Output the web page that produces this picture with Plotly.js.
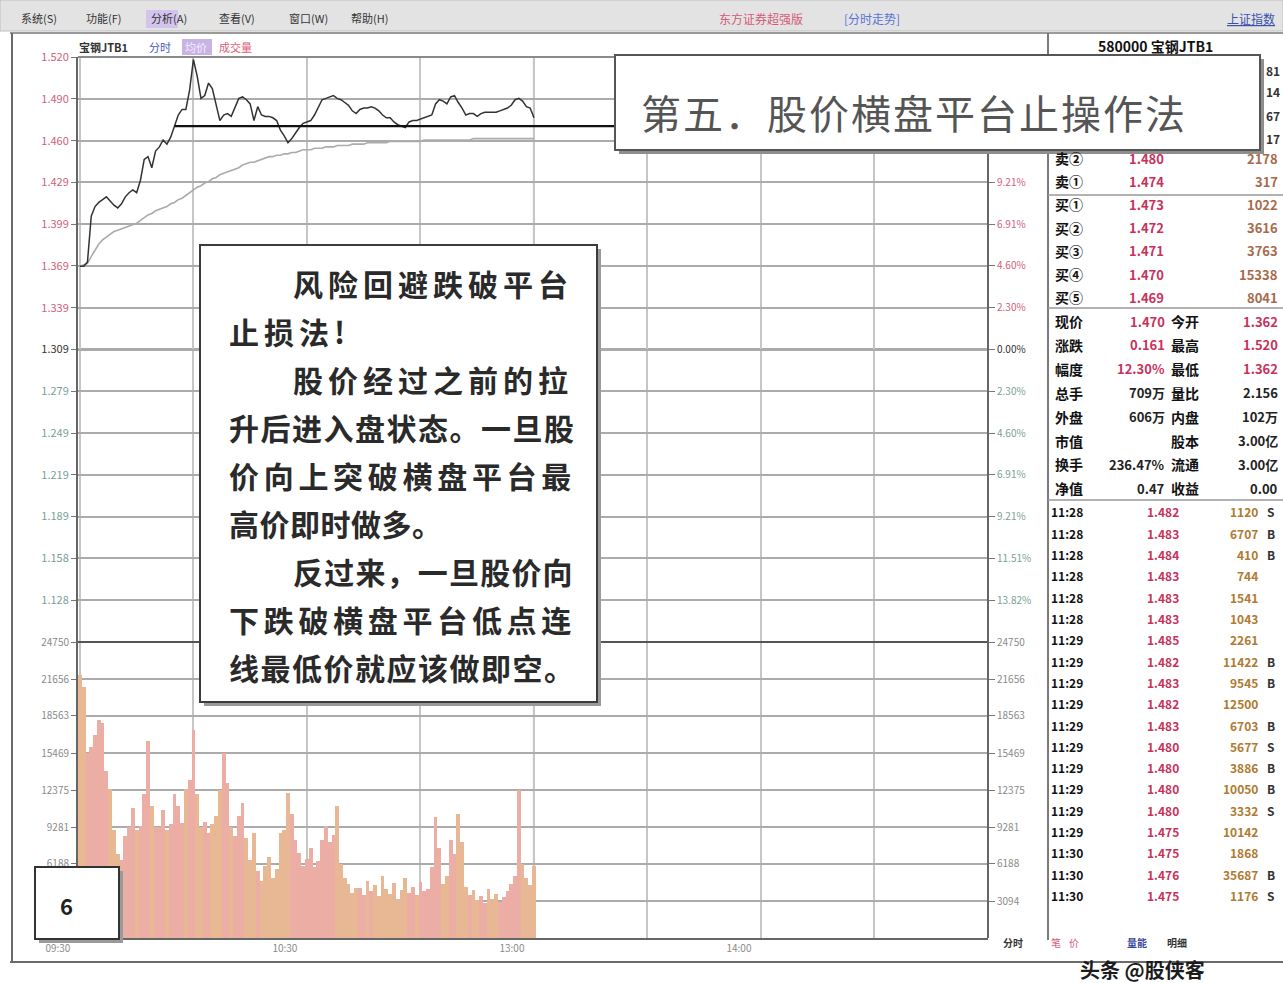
<!DOCTYPE html>
<html><head><meta charset="utf-8">
<script src="https://cdn.plot.ly/plotly-3.0.1.min.js"></script>
<style>html,body{margin:0;padding:0;background:#fff;}#chart{width:1283px;height:983px;}</style>
</head><body><div id="chart"></div>
<script>
// ---------- data ----------
const PRICE = [1.369,1.369,1.372,1.405,1.412,1.415,1.417,1.419,1.416,1.413,
 1.411,1.414,1.419,1.422,1.424,1.422,1.431,1.446,1.448,1.440,
 1.452,1.455,1.460,1.457,1.462,1.470,1.478,1.482,1.482,1.496,
 1.518,1.506,1.490,1.492,1.501,1.497,1.485,1.474,1.478,1.479,
 1.477,1.484,1.490,1.491,1.489,1.486,1.474,1.484,1.478,1.477,
 1.477,1.476,1.474,1.467,1.463,1.458,1.461,1.465,1.469,1.472,
 1.473,1.474,1.478,1.484,1.489,1.490,1.491,1.492,1.490,1.489,
 1.487,1.485,1.481,1.479,1.482,1.483,1.483,1.484,1.483,1.481,
 1.478,1.476,1.476,1.473,1.471,1.470,1.469,1.473,1.474,1.474,
 1.475,1.476,1.477,1.478,1.486,1.489,1.488,1.486,1.491,1.492,
 1.487,1.483,1.478,1.479,1.479,1.477,1.479,1.480,1.480,1.480,
 1.480,1.481,1.482,1.483,1.485,1.489,1.490,1.488,1.484,1.483,
 1.476];
const AVG = [1.369,1.370,1.371,1.376,1.381,1.385,1.388,1.390,1.392,1.394,
 1.395,1.396,1.397,1.398,1.399,1.400,1.402,1.404,1.406,1.407,
 1.409,1.410,1.411,1.412,1.414,1.415,1.417,1.418,1.420,1.422,
 1.424,1.426,1.427,1.429,1.430,1.432,1.433,1.435,1.436,1.437,
 1.438,1.439,1.440,1.442,1.443,1.444,1.444,1.445,1.446,1.447,
 1.448,1.448,1.449,1.449,1.450,1.450,1.451,1.451,1.452,1.453,
 1.453,1.453,1.454,1.454,1.454,1.455,1.455,1.455,1.456,1.456,
 1.456,1.456,1.457,1.457,1.457,1.457,1.458,1.458,1.458,1.458,
 1.458,1.458,1.459,1.459,1.459,1.459,1.459,1.459,1.459,1.459,
 1.459,1.460,1.460,1.460,1.460,1.460,1.460,1.460,1.460,1.460,
 1.460,1.460,1.460,1.460,1.461,1.461,1.461,1.461,1.461,1.461,
 1.461,1.461,1.461,1.461,1.461,1.461,1.461,1.461,1.461,1.461,
 1.461];
const VOLUME = [22000,21000,15500,16000,17000,18200,18000,14000,12500,9000,
 7000,6500,8500,9300,10900,9000,9400,12000,16500,11000,
 9300,9300,10700,9000,9500,12000,11000,9600,12500,13200,
 17400,12000,9300,9700,8800,9500,10200,12400,15500,13000,
 9300,8500,10200,11300,8400,6500,8800,5600,4800,6000,
 6800,5000,5800,8800,9000,12100,10400,8200,7100,6000,
 6600,7500,5900,6400,8200,9400,8000,8600,11000,6200,
 5000,4500,3800,4200,4200,3600,4800,3900,4400,3500,
 5200,4100,3700,4600,3300,4000,5000,3800,4300,3600,
 4700,3900,4100,5900,10100,7500,4500,5200,8200,7000,
 10400,8000,4300,3600,4000,3200,3500,2900,4100,3300,
 3700,3000,3400,3900,4500,5200,12400,6200,5000,4400,
 6000];
const PREV_CLOSE = 1.309;
const PLATFORM_LOW = 1.470;

const TIME_TICKS = [0,60,120,180];
const TIME_LABELS = ['09:30','10:30','13:00','14:00'];
const TIME_MINOR = [30,90,150,210];

const PRICE_TICKS = [1.5198,1.4896,1.4595,1.4294,1.3993,1.3692,1.3391,1.3090,1.2789,1.2488,1.2187,1.1886,1.1584,1.1283];
const PRICE_LABELS = ['1.520','1.490','1.460','1.429','1.399','1.369','1.339','1.309','1.279','1.249','1.219','1.189','1.158','1.128'];
// the three highest percentage labels lie under the title box in the reference
const PCT_LABELS = ['','','','9.21%','6.91%','4.60%','2.30%','0.00%','2.30%','4.60%','6.91%','9.21%','11.51%','13.82%'];
const VOL_TICKS = [3094,6188,9281,12375,15469,18563,21656,24750];
const VOL_LABELS = ['3094','6188','9281','12375','15469','18563','21656','24750'];
// on the left the lowest volume label is hidden by the "6" box in the reference
const VOL_LABELS_LEFT = ['','6188','9281','12375','15469','18563','21656','24750'];

const BOOK_LABELS = ['卖②','卖①','买①','买②','买③','买④','买⑤'];
const BOOK_PRICES = ['1.480','1.474','1.473','1.472','1.471','1.470','1.469'];
const BOOK_VOLS = ['2178','317','1022','3616','3763','15338','8041'];
const QUOTE_L1 = ['现价','涨跌','幅度','总手','外盘','市值','换手','净值'];
const QUOTE_V1 = ['1.470','0.161','12.30%','709万','606万','','236.47%','0.47'];
const QUOTE_L2 = ['今开','最高','最低','量比','内盘','股本','流通','收益'];
const QUOTE_V2 = ['1.362','1.520','1.362','2.156','102万','3.00亿','3.00亿','0.00'];
const TRADE_TIMES = ['11:28','11:28','11:28','11:28','11:28','11:28','11:29','11:29','11:29','11:29','11:29','11:29','11:29','11:29','11:29','11:29','11:30','11:30','11:30'];
const TRADE_PRICES = ['1.482','1.483','1.484','1.483','1.483','1.483','1.485','1.482','1.483','1.482','1.483','1.480','1.480','1.480','1.480','1.475','1.475','1.476','1.475'];
const TRADE_VOLS = ['1120','6707','410','744','1541','1043','2261','11422','9545','12500','6703','5677','3886','10050','3332','10142','1868','35687','1176'];
const TRADE_FLAGS = ['S','B','B','','','','','B','B','','B','S','B','B','S','','','B','S'];

const MENU = ['系统(S)','功能(F)','分析(A)','查看(V)','窗口(W)','帮助(H)'];
const TITLE_TEXT = '第五．股价横盘平台止操作法';
const NOTE_LINES = ['风险回避跌破平台','止损法!','股价经过之前的拉','升后进入盘状态。一旦股','价向上突破横盘平台最','高价即时做多。','反过来，一旦股价向','下跌破横盘平台低点连','线最低价就应该做即空。'];

// ---------- layout helpers ----------
const L=78,R=988,T=57,B=938;
const FONT='"Noto Sans CJK SC","Noto Sans",sans-serif';
const X=p=>(p-L)/(R-L);
const Y=p=>(B-p)/(B-T);
function txt(x,y,text,size,color,anchor,weight){
  return {xref:'paper',yref:'paper',x:X(x),y:Y(y),text:text,showarrow:false,
    xanchor:anchor||'left',yanchor:'middle',borderpad:0,
    font:{family:FONT,size:size,color:color,weight:weight||'normal'}};
}
function rect(x0,y0,x1,y1,fill,lc,lw){
  return {type:'rect',xref:'paper',yref:'paper',x0:X(x0),x1:X(x1),y0:Y(y0),y1:Y(y1),
    fillcolor:fill,line:{color:lc||'rgba(0,0,0,0)',width:lw||0},layer:'above'};
}
function line(x0,y0,x1,y1,color,w){
  return {type:'line',xref:'paper',yref:'paper',x0:X(x0),x1:X(x1),y0:Y(y0),y1:Y(y1),
    line:{color:color,width:w},layer:'above'};
}

const minutes = PRICE.map((_,i)=>i);
const barColors = VOLUME.map((_,i)=> (i>0 && PRICE[i]>PRICE[i-1]) ? '#ecaea4' : '#e8b793');

const labColor = i => i<7 ? '#d0607c' : (i===7 ? '#333' : '#7aa096');
const priceTickText = PRICE_LABELS.map((t,i)=>'<span style="color:'+labColor(i)+'">'+t+'</span>');
const pctTickText = PCT_LABELS.map((t,i)=>'<span style="color:'+labColor(i)+'">'+t+'</span>');

const traces = [
  {x:minutes,y:VOLUME,type:'bar',xaxis:'x',yaxis:'y2',marker:{color:barColors,line:{width:0}},hoverinfo:'skip'},
  {x:minutes,y:AVG,type:'scatter',mode:'lines',xaxis:'x',yaxis:'y',line:{color:'#ababab',width:1.6},hoverinfo:'skip'},
  {x:minutes,y:PRICE,type:'scatter',mode:'lines',xaxis:'x',yaxis:'y',line:{color:'#333333',width:1.5},hoverinfo:'skip'},
  {x:[0],y:[PREV_CLOSE],type:'scatter',mode:'markers',xaxis:'x',yaxis:'y3',marker:{opacity:0},hoverinfo:'skip'},
  {x:[0],y:[VOLUME[0]],type:'scatter',mode:'markers',xaxis:'x',yaxis:'y4',marker:{opacity:0},hoverinfo:'skip'}
];

const shapes = [];
const ann = [];

// window chrome
shapes.push(rect(0,0,1283,31,'#e3e3e3','#bdbdbd',1));
shapes.push(line(10,33,1283,33,'#9a9a9a',2));
shapes.push(line(12,33,12,962,'#6a6a6a',2));
shapes.push(line(10,962,1283,962,'#6a6a6a',2));
shapes.push(line(1048,33,1048,940,'#7a7a7a',2));
// chart frame
shapes.push(line(L,T,R,T,'#8a8a8a',2));
shapes.push(line(L,642,R,642,'#555',2));
shapes.push(line(R,T,R,B,'#666',2));
shapes.push({type:'line',xref:'x',yref:'paper',x0:120,x1:120,y0:0,y1:1,line:{color:'#777',width:2},layer:'below'});
shapes.push({type:'line',xref:'paper',yref:'y',x0:0,x1:1,y0:PREV_CLOSE,y1:PREV_CLOSE,line:{color:'#555',width:2},layer:'below'});
// platform line
shapes.push({type:'line',xref:'x',yref:'y',x0:25,x1:141.5,y0:PLATFORM_LOW,y1:PLATFORM_LOW,line:{color:'#111',width:2.2},layer:'above'});
// right panel separators
shapes.push(line(1048,195,1283,195,'#999',1.5));
shapes.push(line(1048,308,1283,308,'#999',1.5));
shapes.push(line(1048,500,1283,500,'#999',1.5));
// header highlight
shapes.push(rect(182,39,212,55,'#c9b3e6'));
shapes.push(rect(146,10,178,28,'#d3c4ee'));

// note box
shapes.push(rect(204,249,601,706,'#9a9a9a'));
shapes.push(rect(200,245,597,702,'#ffffff','#3c3c3c',2));
// title box
shapes.push(rect(619,59,1264,154,'#8e8e8e'));
shapes.push(rect(615,55,1260,150,'#ffffff','#555',2));
// "6" box
shapes.push(rect(39,871,123,943,'#9a9a9a'));
shapes.push(rect(35,867,119,939,'#ffffff','#333',2));

// menu
const menuX=[20,85,150,218,288,350];
MENU.forEach((m,i)=>ann.push(txt(menuX[i],18,m,11,'#333')));
ann.push(txt(718,18,'东方证券超强版',12,'#d45a78'));
ann.push(txt(843,18,'[分时走势]',12,'#5a74d6'));
ann.push(txt(1226,18,'<u>上证指数</u>',12,'#3a50b0'));
// header row
ann.push(txt(78,47,'宝钢JTB1',11,'#333','left','bold'));
ann.push(txt(148,47,'分时',11,'#4a5ab8'));
ann.push(txt(184,47,'均价',11,'#f4eefc'));
ann.push(txt(218,47,'成交量',11,'#e0607a'));

// right panel header
ann.push(txt(1155,46,'580000 宝钢JTB1',14,'#111','center','bold'));
const peekY=[70,92,115,138], peekT=['81','14','67','17'];
peekY.forEach((y,i)=>ann.push(txt(1281,y,peekT[i],12,'#333','right','bold')));
// order book
BOOK_LABELS.forEach((lab,i)=>{
  const y=158+i*23.2;
  ann.push(txt(1054,y,lab,14,'#111','left','bold'));
  ann.push(txt(1165,y,BOOK_PRICES[i],13,'#c8325a','right','bold'));
  ann.push(txt(1279,y,BOOK_VOLS[i],13,'#a86a4a','right','bold'));
});
// quotes
QUOTE_L1.forEach((lab,i)=>{
  const y=321+i*23.9;
  ann.push(txt(1054,y,lab,14,'#111','left','bold'));
  ann.push(txt(1166,y,QUOTE_V1[i],13,i<3?'#c8325a':'#222','right','bold'));
  ann.push(txt(1170,y,QUOTE_L2[i],14,'#111','left','bold'));
  ann.push(txt(1279,y,QUOTE_V2[i],13,i<3?'#c8325a':'#222','right','bold'));
});
// trades
TRADE_TIMES.forEach((t,i)=>{
  const y=512+i*21.3;
  ann.push(txt(1050,y,t,12,'#111','left','bold'));
  ann.push(txt(1180,y,TRADE_PRICES[i],12,'#c8325a','right','bold'));
  ann.push(txt(1259,y,TRADE_VOLS[i],12,'#b07a30','right','bold'));
  if(TRADE_FLAGS[i]) ann.push(txt(1266,y,TRADE_FLAGS[i],12,'#333','left','bold'));
});

// title
ann.push(txt(640,112,'<span style="letter-spacing:2px">'+TITLE_TEXT+'</span>',40,'#555555','left'));
// note text
const noteX=[292,228,292,228,228,228,292,228,228];
const noteSpacing=[5,5,5,1.5,4.7,0.5,1.2,4.7,1.5];
NOTE_LINES.forEach((s,i)=>{
  ann.push(txt(noteX[i],283+i*48,'<span style="letter-spacing:'+noteSpacing[i]+'px">'+s+'</span>',30,'#2a2a2a','left','bold'));
});
// "6"
ann.push(txt(66,905,'6',22,'#222','center','bold'));
// bottom tabs and watermark
ann.push(txt(1002,943,'分时',10,'#333','left','bold'));
ann.push(txt(1050,943,'笔',10,'#d05a78','left'));
ann.push(txt(1068,943,'价',10,'#d05a78','left'));
ann.push(txt(1126,943,'量能',10,'#3a4aa0','left','bold'));
ann.push(txt(1166,943,'明细',10,'#333','left','bold'));
ann.push(txt(1142,969,'头条 @股侠客',20,'#1c1c1c','center','bold'));

const layout = {
  width:1283,height:983,
  margin:{l:L,r:1283-R,t:T,b:983-B,pad:0},
  paper_bgcolor:'#ffffff',plot_bgcolor:'#ffffff',
  showlegend:false,bargap:0,
  font:{family:FONT,size:11,color:'#666'},
  xaxis:{range:[-0.5,240],anchor:'y2',tickmode:'array',tickvals:TIME_TICKS,ticktext:TIME_LABELS,
    ticklabelshift:-22,showgrid:true,gridcolor:'#c6c6c6',gridwidth:2,zeroline:false,
    minor:{tickmode:'array',tickvals:TIME_MINOR,showgrid:true,gridcolor:'#c6c6c6',gridwidth:2,ticks:''},
    showline:true,linecolor:'#666',linewidth:2,ticks:'',tickfont:{size:10,color:'#8a8a8a'}},
  yaxis:{domain:[Y(642),1],range:[1.0982,1.5198],tickmode:'array',tickvals:PRICE_TICKS,ticktext:priceTickText,
    showgrid:true,gridcolor:'#ababab',gridwidth:2,zeroline:false,showline:true,linecolor:'#666',linewidth:2,
    ticks:'outside',ticklen:5,tickcolor:'#777',tickfont:{size:11}},
  yaxis2:{domain:[0,Y(642)],range:[0,24750],tickmode:'array',tickvals:VOL_TICKS,ticktext:VOL_LABELS_LEFT,
    showgrid:true,gridcolor:'#ababab',gridwidth:2,zeroline:false,showline:true,linecolor:'#666',linewidth:2,
    ticks:'outside',ticklen:5,tickcolor:'#777',tickfont:{size:10,color:'#8a8a8a'}},
  yaxis3:{overlaying:'y',side:'right',anchor:'x',range:[1.0982,1.5198],tickmode:'array',tickvals:PRICE_TICKS,ticktext:pctTickText,
    showgrid:false,zeroline:false,ticks:'outside',ticklen:6,tickcolor:'#777',tickfont:{size:10}},
  yaxis4:{overlaying:'y2',side:'right',anchor:'x',range:[0,24750],tickmode:'array',tickvals:VOL_TICKS,ticktext:VOL_LABELS,
    showgrid:false,zeroline:false,ticks:'outside',ticklen:6,tickcolor:'#777',tickfont:{size:10,color:'#8a8a8a'}},
  shapes:shapes,annotations:ann
};
Plotly.newPlot('chart',traces,layout,{staticPlot:true,displayModeBar:false});
</script></body></html>
